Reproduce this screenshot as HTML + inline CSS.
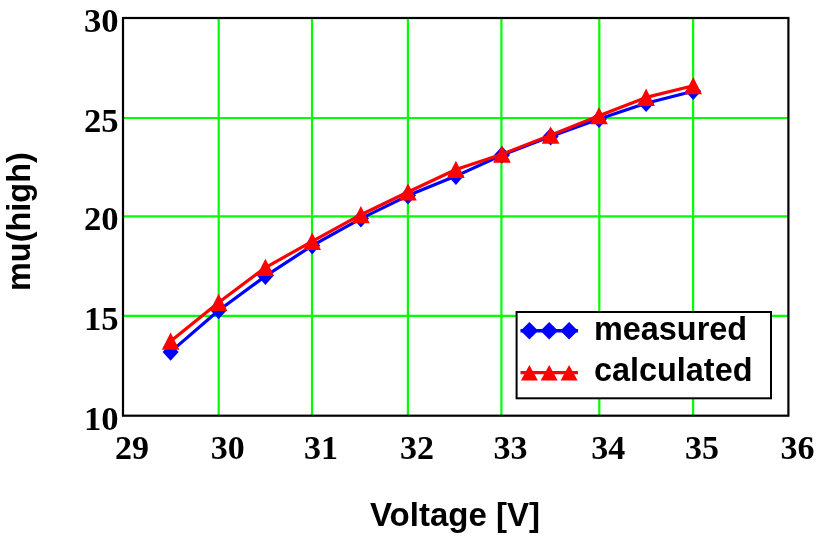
<!DOCTYPE html>
<html><head><meta charset="utf-8"><title>chart</title>
<style>
html,body{margin:0;padding:0;background:#fff;}
body{width:831px;height:539px;overflow:hidden;}
svg{display:block;filter:blur(0.6px);}
.ser{font-family:"Liberation Serif",serif;font-weight:bold;font-size:33px;fill:#000;}
.san{font-family:"Liberation Sans",sans-serif;font-weight:bold;font-size:33px;fill:#000;}
.leg{font-size:32.4px;}
</style></head><body>
<svg width="831" height="539" viewBox="0 0 831 539">
<rect x="0" y="0" width="831" height="539" fill="#ffffff"/>
<line x1="218.7" y1="18" x2="218.7" y2="415.7" stroke="#00ff00" stroke-width="2.2"/>
<line x1="312.0" y1="18" x2="312.0" y2="415.7" stroke="#00ff00" stroke-width="2.2"/>
<line x1="407.9" y1="18" x2="407.9" y2="415.7" stroke="#00ff00" stroke-width="2.2"/>
<line x1="501.4" y1="18" x2="501.4" y2="415.7" stroke="#00ff00" stroke-width="2.2"/>
<line x1="599.3" y1="18" x2="599.3" y2="415.7" stroke="#00ff00" stroke-width="2.2"/>
<line x1="693.1" y1="18" x2="693.1" y2="415.7" stroke="#00ff00" stroke-width="2.2"/>
<line x1="123" y1="118" x2="788.4" y2="118" stroke="#00ff00" stroke-width="2.2"/>
<line x1="123" y1="216.3" x2="788.4" y2="216.3" stroke="#00ff00" stroke-width="2.2"/>
<line x1="123" y1="315.9" x2="788.4" y2="315.9" stroke="#00ff00" stroke-width="2.2"/>
<rect x="123" y="18" width="665.4" height="397.7" fill="none" stroke="#000" stroke-width="2.2"/>
<rect x="516.6" y="312" width="254.4" height="86.3" fill="#fff" stroke="#000" stroke-width="2"/>
<polyline fill="none" stroke="#0000ff" stroke-width="3.2" stroke-linejoin="round" points="170.6,351.90000000000003 218.6,310.5 265.4,276.1 312.2,245.60000000000002 360.9,218.60000000000002 408,195.60000000000002 455.9,176.10000000000002 502,155.0 550.6,136.60000000000002 599,119.1 646.1,103.3 693.2,91.3"/>
<path d="M162.6 351.9L170.6 343.1L178.6 351.9L170.6 360.7Z" fill="#0000ff"/>
<path d="M210.6 310.5L218.6 301.7L226.6 310.5L218.6 319.3Z" fill="#0000ff"/>
<path d="M257.4 276.1L265.4 267.3L273.4 276.1L265.4 284.9Z" fill="#0000ff"/>
<path d="M304.2 245.6L312.2 236.8L320.2 245.6L312.2 254.4Z" fill="#0000ff"/>
<path d="M352.9 218.6L360.9 209.8L368.9 218.6L360.9 227.4Z" fill="#0000ff"/>
<path d="M400.0 195.6L408.0 186.8L416.0 195.6L408.0 204.4Z" fill="#0000ff"/>
<path d="M447.9 176.1L455.9 167.3L463.9 176.1L455.9 184.9Z" fill="#0000ff"/>
<path d="M494.0 155.0L502.0 146.2L510.0 155.0L502.0 163.8Z" fill="#0000ff"/>
<path d="M542.6 136.6L550.6 127.8L558.6 136.6L550.6 145.4Z" fill="#0000ff"/>
<path d="M591.0 119.1L599.0 110.3L607.0 119.1L599.0 127.9Z" fill="#0000ff"/>
<path d="M638.1 103.3L646.1 94.5L654.1 103.3L646.1 112.1Z" fill="#0000ff"/>
<path d="M685.2 91.3L693.2 82.5L701.2 91.3L693.2 100.1Z" fill="#0000ff"/>
<polyline fill="none" stroke="#ff0000" stroke-width="3.2" stroke-linejoin="round" points="170.6,341.2 218.6,302.5 265.4,267.6 312.2,241.4 360.9,214.7 408,192 455.9,169.5 502,154.2 550.6,135.3 599,115.7 646.1,97.4 693.2,85.8"/>
<path d="M170.6 332.4L179.4 349.7L161.8 349.7Z" fill="#ff0000"/>
<path d="M218.6 293.7L227.4 311.0L209.8 311.0Z" fill="#ff0000"/>
<path d="M265.4 258.8L274.2 276.1L256.6 276.1Z" fill="#ff0000"/>
<path d="M312.2 232.6L321.0 249.9L303.4 249.9Z" fill="#ff0000"/>
<path d="M360.9 205.9L369.7 223.2L352.1 223.2Z" fill="#ff0000"/>
<path d="M408.0 183.2L416.8 200.5L399.2 200.5Z" fill="#ff0000"/>
<path d="M455.9 160.7L464.7 178.0L447.1 178.0Z" fill="#ff0000"/>
<path d="M502.0 145.4L510.8 162.7L493.2 162.7Z" fill="#ff0000"/>
<path d="M550.6 126.5L559.4 143.8L541.8 143.8Z" fill="#ff0000"/>
<path d="M599.0 106.9L607.8 124.2L590.2 124.2Z" fill="#ff0000"/>
<path d="M646.1 88.6L654.9 105.9L637.3 105.9Z" fill="#ff0000"/>
<path d="M693.2 77.0L702.0 94.3L684.4 94.3Z" fill="#ff0000"/>
<line x1="520.5" y1="330.7" x2="578" y2="330.7" stroke="#0000ff" stroke-width="3.5"/>
<path d="M520.6 330.7L529.4 321.9L538.2 330.7L529.4 339.5Z" fill="#0000ff"/>
<path d="M540.4 330.7L549.2 321.9L558.0 330.7L549.2 339.5Z" fill="#0000ff"/>
<path d="M560.3 330.7L569.1 321.9L577.9 330.7L569.1 339.5Z" fill="#0000ff"/>
<line x1="520.5" y1="372.6" x2="578" y2="372.6" stroke="#ff0000" stroke-width="3.2"/>
<path d="M529.4 365.0L537.9 380.6L520.9 380.6Z" fill="#ff0000"/>
<path d="M549.2 365.0L557.7 380.6L540.7 380.6Z" fill="#ff0000"/>
<path d="M569.1 365.0L577.6 380.6L560.6 380.6Z" fill="#ff0000"/>
<text class="san leg" x="594" y="339.7">measured</text>
<text class="san leg" x="594" y="380.5">calculated</text>
<text class="ser" transform="translate(118.6,32.1) scale(1.05,1)" text-anchor="end">30</text>
<text class="ser" transform="translate(118.6,132.1) scale(1.05,1)" text-anchor="end">25</text>
<text class="ser" transform="translate(118.6,230.4) scale(1.05,1)" text-anchor="end">20</text>
<text class="ser" transform="translate(118.6,330.0) scale(1.05,1)" text-anchor="end">15</text>
<text class="ser" transform="translate(118.6,429.8) scale(1.05,1)" text-anchor="end">10</text>
<text class="ser" transform="translate(132.0,458.5) scale(1.03,1)" text-anchor="middle">29</text>
<text class="ser" transform="translate(227.7,458.5) scale(1.03,1)" text-anchor="middle">30</text>
<text class="ser" transform="translate(321.0,458.5) scale(1.03,1)" text-anchor="middle">31</text>
<text class="ser" transform="translate(416.9,458.5) scale(1.03,1)" text-anchor="middle">32</text>
<text class="ser" transform="translate(510.4,458.5) scale(1.03,1)" text-anchor="middle">33</text>
<text class="ser" transform="translate(608.3,458.5) scale(1.03,1)" text-anchor="middle">34</text>
<text class="ser" transform="translate(702.1,458.5) scale(1.03,1)" text-anchor="middle">35</text>
<text class="ser" transform="translate(797.4,458.5) scale(1.03,1)" text-anchor="middle">36</text>
<text class="san" x="455" y="525.6" text-anchor="middle">Voltage [V]</text>
<text class="san" transform="translate(30.4,221.6) rotate(-90) scale(0.985,1)" text-anchor="middle">mu(high)</text>
</svg></body></html>
